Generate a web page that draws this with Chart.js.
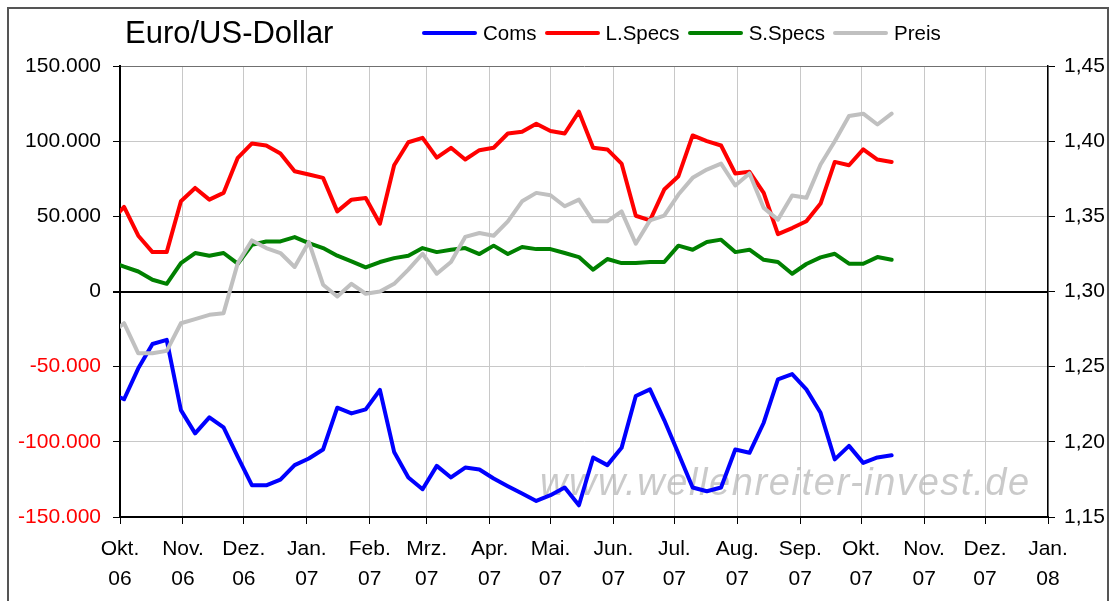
<!DOCTYPE html>
<html>
<head>
<meta charset="utf-8">
<script src="https://cdn.jsdelivr.net/npm/chart.js@4/dist/chart.umd.min.js"></script>
<style>
  body { margin: 0; background: #fff; overflow: hidden; font-family: "Liberation Sans", Arial, sans-serif; }
  #wrap { position: relative; width: 1110px; height: 601px; }
  #frame { position: absolute; left: 7px; top: 7px; width: 1102px; height: 700px; border: 2px solid #555; box-sizing: border-box; pointer-events: none; }
  #title { position: absolute; left: 125px; top: 17px; font-size: 31px; line-height: 31px; color: #000; }
  #legend { position: absolute; left: 422px; top: 22px; display: flex; align-items: center; font-size: 20.5px; line-height: 22px; color: #000; }
  #legend .item { display: flex; align-items: center; margin-right: 8px; }
  #legend .line { width: 55px; height: 4px; margin-right: 6px; border-radius: 2px; }
  canvas { position: absolute; left: 0; top: 0; }
</style>
</head>
<body>
<div id="wrap">
  <canvas id="chart" width="1110" height="601"></canvas>
  <div id="frame"></div>
  <div id="title">Euro/US-Dollar</div>
  <div id="legend"></div>
</div>
<script>
// Wochenwerte (COT-Daten), jeweils Dienstag
const dates = [
  '2006-09-26', '2006-10-03', '2006-10-10', '2006-10-17', '2006-10-24', '2006-10-31',
  '2006-11-07', '2006-11-14', '2006-11-21', '2006-11-28', '2006-12-05', '2006-12-12',
  '2006-12-19', '2006-12-26', '2007-01-02', '2007-01-09', '2007-01-16', '2007-01-23',
  '2007-01-30', '2007-02-06', '2007-02-13', '2007-02-20', '2007-02-27', '2007-03-06',
  '2007-03-13', '2007-03-20', '2007-03-27', '2007-04-03', '2007-04-10', '2007-04-17',
  '2007-04-24', '2007-05-01', '2007-05-08', '2007-05-15', '2007-05-22', '2007-05-29',
  '2007-06-05', '2007-06-12', '2007-06-19', '2007-06-26', '2007-07-03', '2007-07-10',
  '2007-07-17', '2007-07-24', '2007-07-31', '2007-08-07', '2007-08-14', '2007-08-21',
  '2007-08-28', '2007-09-04', '2007-09-11', '2007-09-18', '2007-09-25', '2007-10-02',
  '2007-10-09', '2007-10-16'
];

const coms = [
  -67200, -71700, -51100, -34900, -32200, -78900, -94400, -83700, -90400, -110000,
  -128900, -128900, -125100, -115500, -111100, -105100, -77300, -81100, -78400, -65500,
  -106700, -123700, -131500, -116000, -123700, -117100, -118400, -124400, -129500, -134400,
  -139300, -135500, -130400, -142200, -110400, -115500, -104000, -69500, -65100, -85500,
  -107700, -130400, -132900, -130400, -105100, -107300, -87300, -58400, -54900, -65100,
  -80700, -111700, -102700, -114000, -110400, -108900
];

const lSpecs = [
  45800, 56300, 37100, 26200, 26200, 60000, 68900, 61100, 65600, 88900,
  98500, 97100, 91800, 80000, 77800, 75600, 53300, 61100, 62200, 45100,
  84000, 99300, 102200, 89100, 95600, 87800, 94000, 95600, 105100, 106200,
  111600, 106700, 105100, 119600, 95600, 94500, 85100, 50400, 47300, 67800,
  76700, 103800, 100000, 97100, 78500, 79600, 65600, 38200, 42200, 46700,
  58500, 86200, 84000, 94500, 87800, 86200
];

const sSpecs = [
  20000, 16500, 13300, 7800, 5100, 18900, 25600, 23800, 25600, 18500,
  31100, 33300, 33300, 36200, 32200, 28900, 23800, 20000, 16000, 19600,
  22200, 23800, 28900, 26200, 27800, 28900, 24900, 30500, 24900, 29600,
  28200, 28200, 25600, 22900, 14500, 21600, 18900, 18900, 19600, 19600,
  30500, 27800, 32900, 34500, 26200, 27800, 21100, 19600, 11800, 18300,
  22700, 25100, 18500, 18500, 22900, 21100
];

const preis = [
  1.2712, 1.2789, 1.2589, 1.2589, 1.2605, 1.2789, 1.2816, 1.2845, 1.2856, 1.3189,
  1.3340, 1.3289, 1.3256, 1.3163, 1.3330, 1.3045, 1.2967, 1.3051, 1.2985, 1.3000,
  1.3051, 1.3145, 1.3251, 1.3118, 1.3196, 1.3363, 1.3389, 1.3371, 1.3467, 1.3600,
  1.3656, 1.3640, 1.3567, 1.3611, 1.3467, 1.3467, 1.3533, 1.3318, 1.3473, 1.3505,
  1.3645, 1.3756, 1.3811, 1.3851, 1.3705, 1.3785, 1.3556, 1.3478, 1.3638, 1.3623,
  1.3845, 1.4000, 1.4167, 1.4183, 1.4111, 1.4183
];

// Monatsachse
const monthStarts = [
  '2006-10-01', '2006-11-01', '2006-12-01', '2007-01-01', '2007-02-01', '2007-03-01',
  '2007-04-01', '2007-05-01', '2007-06-01', '2007-07-01', '2007-08-01', '2007-09-01',
  '2007-10-01', '2007-11-01', '2007-12-01', '2008-01-01'
];
const monthNames = ['Okt.', 'Nov.', 'Dez.', 'Jan.', 'Feb.', 'Mrz.', 'Apr.', 'Mai.',
  'Jun.', 'Jul.', 'Aug.', 'Sep.', 'Okt.', 'Nov.', 'Dez.', 'Jan.'];
const yearNames = ['06', '06', '06', '07', '07', '07', '07', '07',
  '07', '07', '07', '07', '07', '07', '07', '08'];

const seriesNames = ['Coms', 'L.Specs', 'S.Specs', 'Preis'];
const seriesColors = ['#0000ff', '#ff0000', '#008000', '#c0c0c0'];
const watermarkText = 'www.wellenreiter-invest.de';

// Tage seit 1. Okt. 2006
function dayOffset(str) {
    const p = str.split('-').map(Number);
    return (Date.UTC(p[0], p[1] - 1, p[2]) - Date.UTC(2006, 9, 1)) / 86400000;
}

const monthDays = monthStarts.map(dayOffset);
const xs = dates.map(dayOffset);

function toPoints(values) {
    return values.map((v, i) => ({ x: xs[i], y: v }));
}

// Legende als HTML
const legendEl = document.getElementById('legend');
seriesNames.forEach((name, i) => {
    const item = document.createElement('div');
    item.className = 'item';
    item.innerHTML = '<span class="line" style="background:' + seriesColors[i] + '"></span><span>' + name + '</span>';
    legendEl.appendChild(item);
});

const watermark = {
    id: 'watermark',
    beforeDatasetsDraw(chart) {
        const ctx = chart.ctx;
        ctx.save();
        ctx.font = 'italic 38px "Liberation Sans", Arial, sans-serif';
        ctx.letterSpacing = '1.6px';
        ctx.fillStyle = 'rgba(180,180,180,0.7)';
        ctx.textBaseline = 'alphabetic';
        ctx.fillText(watermarkText, 540, 495);
        ctx.restore();
    }
};

// Excel zeichnet spätere Reihen oben, Preis liegt ganz oben
const series = [coms, lSpecs, sSpecs, preis];
const datasets = series.map((vals, i) => ({
    label: seriesNames[i],
    data: toPoints(vals),
    borderColor: seriesColors[i],
    backgroundColor: seriesColors[i],
    borderWidth: 4,
    pointRadius: 0,
    tension: 0,
    borderJoinStyle: 'round',
    borderCapStyle: 'round',
    order: 3 - i,
    yAxisID: i === 3 ? 'y2' : 'y'
}));

const tickFont = { family: '"Liberation Sans", Arial, sans-serif', size: 21 };

new Chart(document.getElementById('chart'), {
    type: 'line',
    data: { datasets: datasets },
    options: {
        responsive: false,
        animation: false,
        layout: { padding: { top: 66, left: 0, right: 0, bottom: 0 } },
        plugins: {
            legend: { display: false },
            tooltip: { enabled: false }
        },
        scales: {
            x: {
                type: 'linear',
                min: 0,
                max: monthDays[monthDays.length - 1],
                afterBuildTicks: s => { s.ticks = monthDays.map(v => ({ value: v })); },
                afterFit: s => { s.height = 84; },
                ticks: {
                    autoSkip: false,
                    maxRotation: 0,
                    color: '#000',
                    font: Object.assign({ lineHeight: 1.42 }, tickFont),
                    padding: 10,
                    callback: v => {
                        const i = monthDays.indexOf(v);
                        return [monthNames[i], yearNames[i]];
                    }
                },
                grid: { color: '#c8c8c8', lineWidth: 1, tickColor: '#000', tickLength: 7 },
                border: { color: '#000', width: 2 }
            },
            y: {
                position: 'left',
                min: -150000,
                max: 150000,
                afterFit: s => { s.width = 120; },
                ticks: {
                    stepSize: 50000,
                    font: tickFont,
                    padding: 12,
                    color: c => c.tick.value < 0 ? '#ff0000' : '#000',
                    callback: v => v.toLocaleString('de-DE')
                },
                grid: {
                    color: c => c.tick.value === 0 ? '#000' : (c.tick.value === 150000 ? '#707070' : '#c8c8c8'),
                    lineWidth: c => c.tick.value === 0 ? 2 : 1,
                    tickColor: '#000',
                    tickLength: 7
                },
                border: { color: '#000', width: 2 }
            },
            y2: {
                position: 'right',
                min: 1.15,
                max: 1.45,
                afterFit: s => { s.width = 62; },
                ticks: {
                    stepSize: 0.05,
                    font: tickFont,
                    padding: 9,
                    color: '#000',
                    callback: v => v.toFixed(2).replace('.', ',')
                },
                grid: { drawOnChartArea: false, tickColor: '#000', tickLength: 7 },
                border: { color: '#000', width: 1.5 }
            }
        }
    },
    plugins: [watermark]
});
</script>
</body>
</html>
